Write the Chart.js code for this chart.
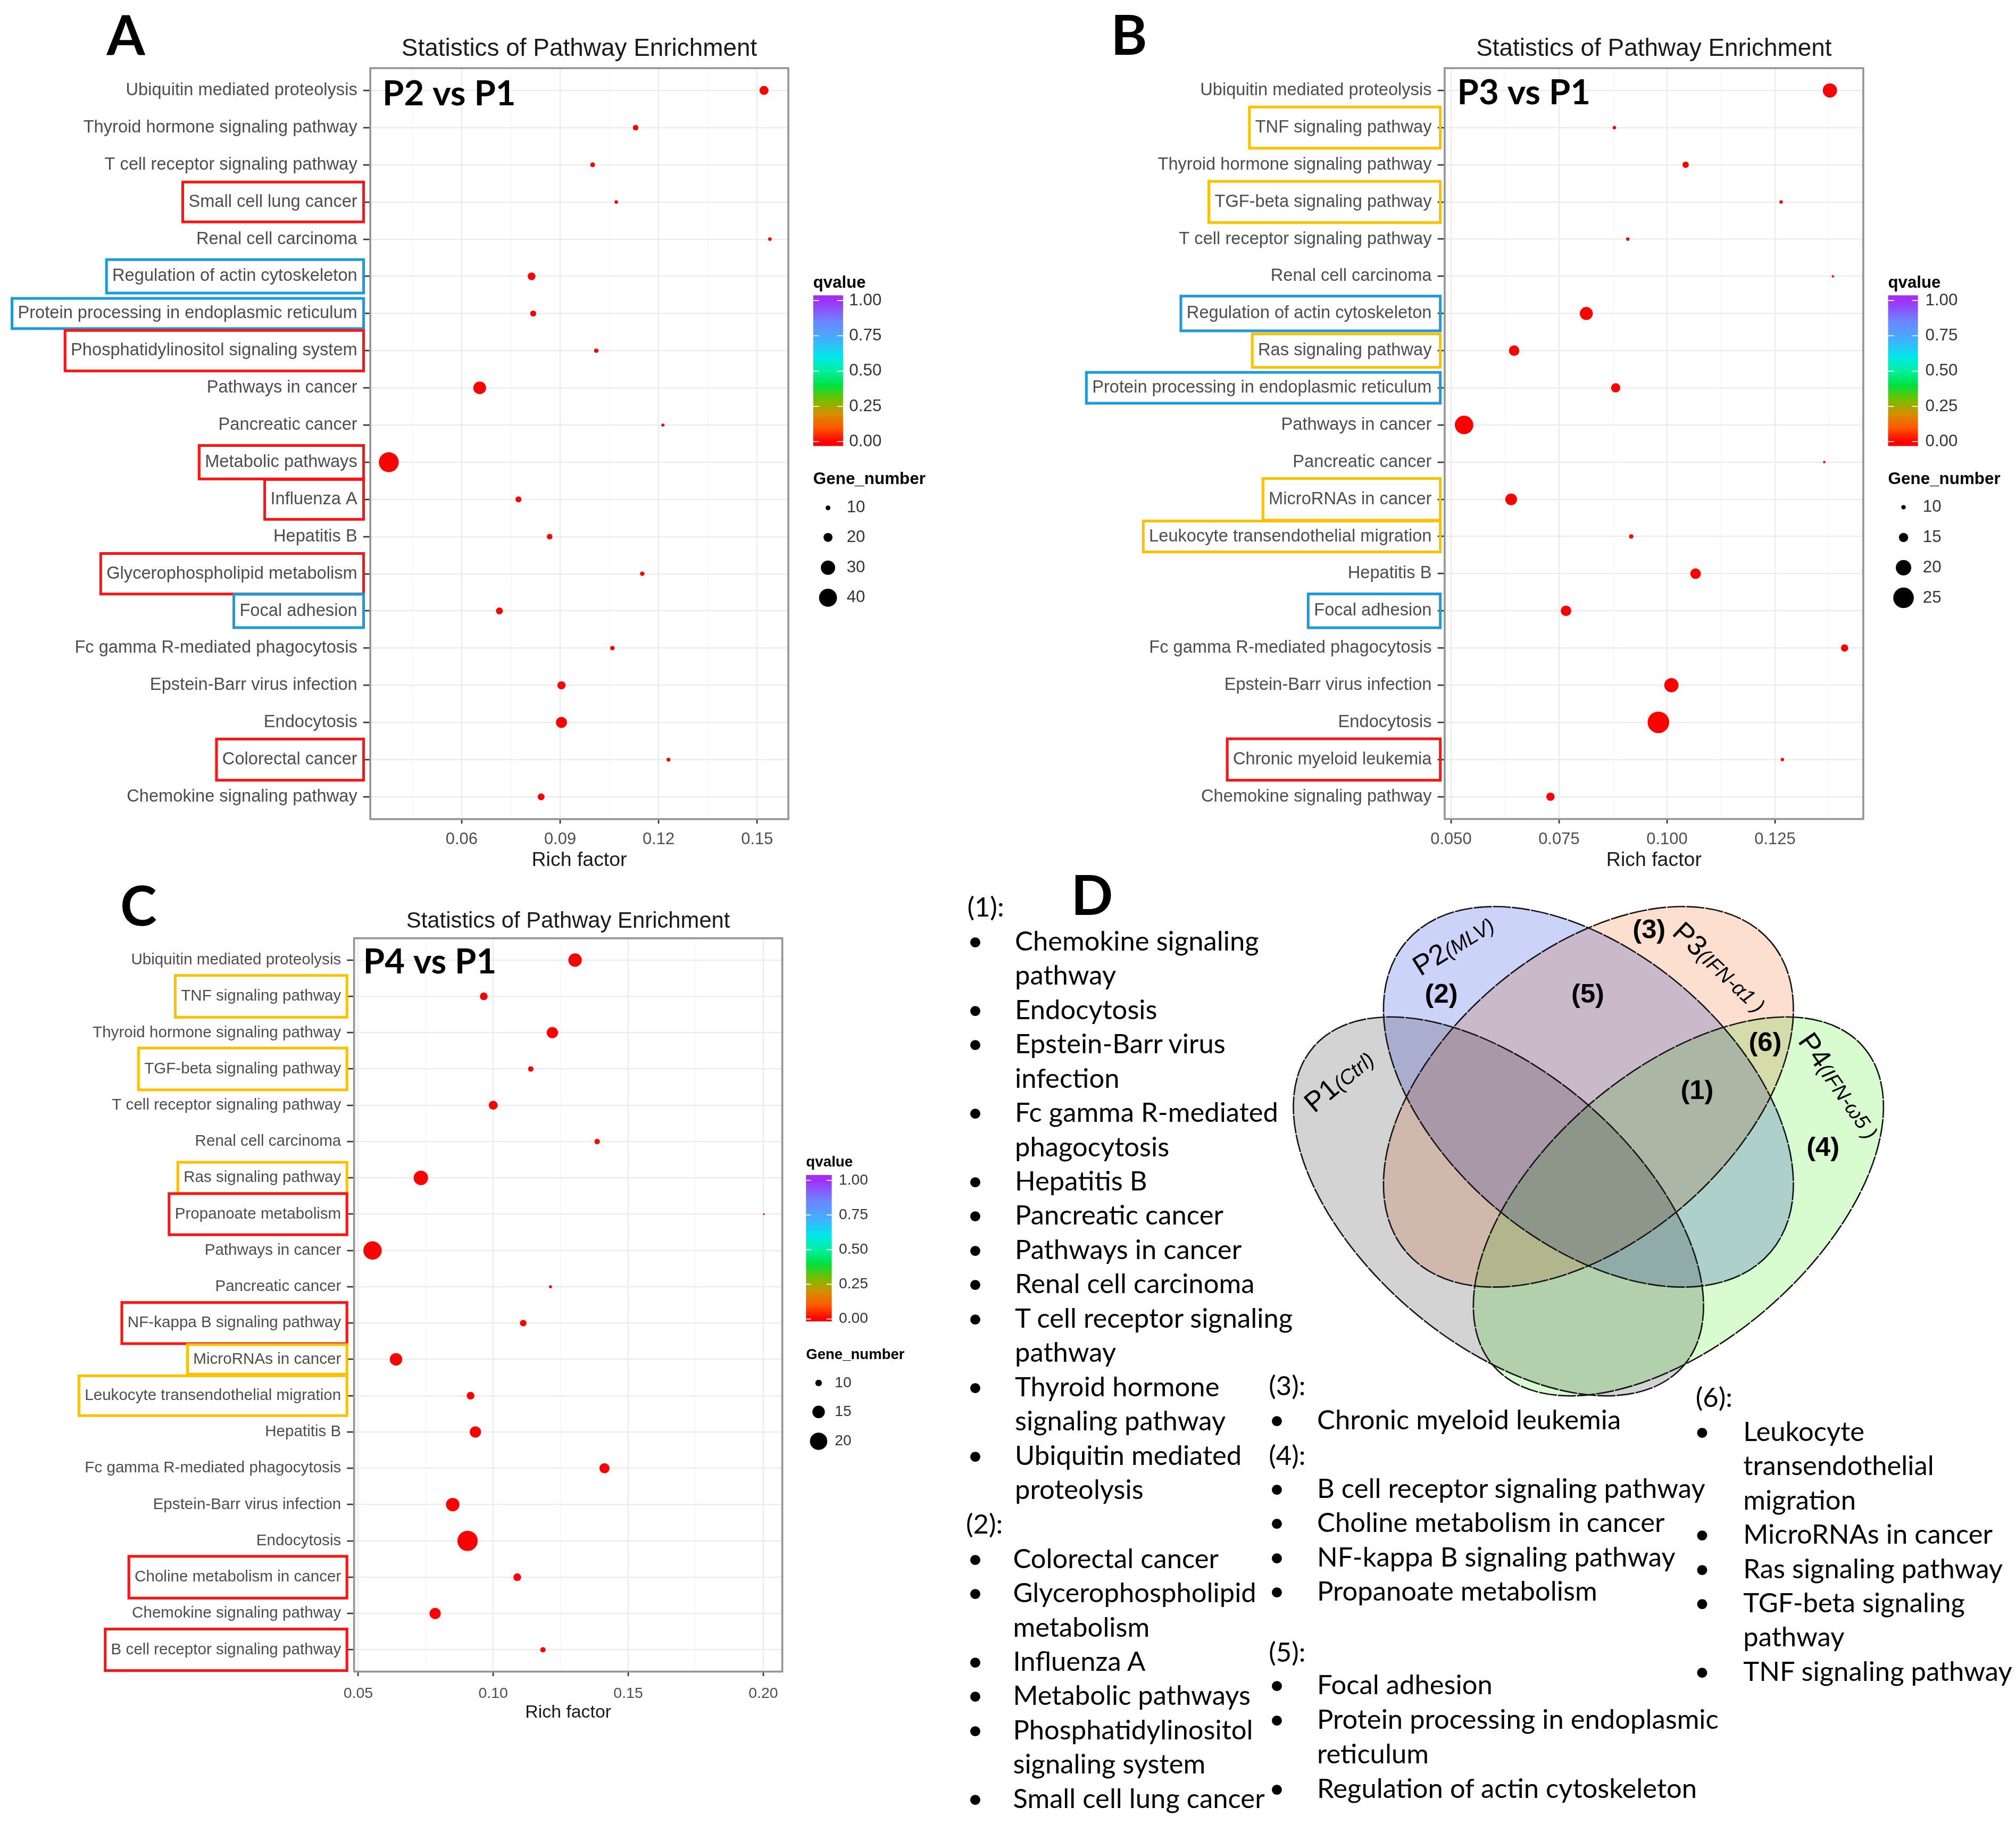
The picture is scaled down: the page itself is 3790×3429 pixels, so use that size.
<!DOCTYPE html>
<html><head><meta charset="utf-8"><title>Statistics of Pathway Enrichment</title>
<script src="https://cdn.jsdelivr.net/npm/chart.js@4.4.1/dist/chart.umd.min.js"></script>
<style>
html,body{margin:0;padding:0;background:#fff;}
body{width:3790px;height:3429px;position:relative;overflow:hidden;}
canvas{position:absolute;}
.t{position:absolute;white-space:pre;font-family:Lato,"Open Sans",sans-serif;color:#000;}
</style></head><body>
<script>
const S = 3790 / 1568;
const u = v => v * S;

// ================= DATA =================
const titleText = 'Statistics of Pathway Enrichment';
const xTitle = 'Rich factor';
const tags = ['P2 vs P1', 'P3 vs P1', 'P4 vs P1'];

const catsA = ['Ubiquitin mediated proteolysis','Thyroid hormone signaling pathway','T cell receptor signaling pathway','Small cell lung cancer','Renal cell carcinoma','Regulation of actin cytoskeleton','Protein processing in endoplasmic reticulum','Phosphatidylinositol signaling system','Pathways in cancer','Pancreatic cancer','Metabolic pathways','Influenza A','Hepatitis B','Glycerophospholipid metabolism','Focal adhesion','Fc gamma R-mediated phagocytosis','Epstein-Barr virus infection','Endocytosis','Colorectal cancer','Chemokine signaling pathway'];
const richA  = [0.1521,0.1130,0.0999,0.1071,0.1539,0.0813,0.0818,0.1010,0.0655,0.1213,0.0378,0.0773,0.0868,0.1150,0.0715,0.1059,0.0904,0.0904,0.1230,0.0842];
const genesA = [20,12,10,7,7,17,13,9,27,6,45,13,12,9,15,9,18,24,8,15];

const catsB = ['Ubiquitin mediated proteolysis','TNF signaling pathway','Thyroid hormone signaling pathway','TGF-beta signaling pathway','T cell receptor signaling pathway','Renal cell carcinoma','Regulation of actin cytoskeleton','Ras signaling pathway','Protein processing in endoplasmic reticulum','Pathways in cancer','Pancreatic cancer','MicroRNAs in cancer','Leukocyte transendothelial migration','Hepatitis B','Focal adhesion','Fc gamma R-mediated phagocytosis','Epstein-Barr virus infection','Endocytosis','Chronic myeloid leukemia','Chemokine signaling pathway'];
const richB  = [0.1377,0.0878,0.1043,0.1264,0.0909,0.1384,0.0813,0.0646,0.0881,0.0530,0.1364,0.0639,0.0917,0.1066,0.0766,0.1411,0.1010,0.0980,0.1267,0.0730];
const genesB = [19,9,12,9,9,8,18,16,15,23,8,17,10,16,16,13,19,26,9,14];

const catsC = ['Ubiquitin mediated proteolysis','TNF signaling pathway','Thyroid hormone signaling pathway','TGF-beta signaling pathway','T cell receptor signaling pathway','Renal cell carcinoma','Ras signaling pathway','Propanoate metabolism','Pathways in cancer','Pancreatic cancer','NF-kappa B signaling pathway','MicroRNAs in cancer','Leukocyte transendothelial migration','Hepatitis B','Fc gamma R-mediated phagocytosis','Epstein-Barr virus infection','Endocytosis','Choline metabolism in cancer','Chemokine signaling pathway','B cell receptor signaling pathway'];
const richC  = [0.1303,0.0965,0.1219,0.1139,0.1000,0.1385,0.0732,0.2002,0.0553,0.1212,0.1111,0.0640,0.0916,0.0934,0.1412,0.0850,0.0905,0.1089,0.0785,0.1184];
const genesC = [16,11,14,9,12,9,17,6,21,7,10,15,11,14,13,16,23,11,14,9];

const xTicksA = [0.06,0.09,0.12,0.15];     const xTickLabelsA = ['0.06','0.09','0.12','0.15'];     const xMinorA = [0.045,0.075,0.105,0.135];
const xTicksB = [0.050,0.075,0.100,0.125]; const xTickLabelsB = ['0.050','0.075','0.100','0.125']; const xMinorB = [0.0625,0.0875,0.1125,0.1375];
const xTicksC = [0.05,0.10,0.15,0.20];     const xTickLabelsC = ['0.05','0.10','0.15','0.20'];     const xMinorC = [0.075,0.125,0.175];

const qTicks = [1.00,0.75,0.50,0.25,0.00];
const qTickLabels = ['1.00','0.75','0.50','0.25','0.00'];
const sizeLegA = [10,20,30,40];
const sizeLegB = [10,15,20,25];
const sizeLegC = [10,15,20];

const boxesA = [['Small cell lung cancer','red'],['Regulation of actin cytoskeleton','blue'],['Protein processing in endoplasmic reticulum','blue'],['Phosphatidylinositol signaling system','red'],['Metabolic pathways','red'],['Influenza A','red'],['Glycerophospholipid metabolism','red'],['Focal adhesion','blue'],['Colorectal cancer','red']];
const boxesB = [['TNF signaling pathway','yellow'],['TGF-beta signaling pathway','yellow'],['Regulation of actin cytoskeleton','blue'],['Ras signaling pathway','yellow'],['Protein processing in endoplasmic reticulum','blue'],['MicroRNAs in cancer','yellow'],['Leukocyte transendothelial migration','yellow'],['Focal adhesion','blue'],['Chronic myeloid leukemia','red']];
const boxesC = [['TNF signaling pathway','yellow'],['TGF-beta signaling pathway','yellow'],['Ras signaling pathway','yellow'],['Propanoate metabolism','red'],['NF-kappa B signaling pathway','red'],['MicroRNAs in cancer','yellow'],['Leukocyte transendothelial migration','yellow'],['Choline metabolism in cancer','red'],['B cell receptor signaling pathway','red']];

const vennSets = ['P1','P2','P3','P4'];
const vennSubs = ['(Ctrl)','(MLV)','(IFN-\u03b11 )','(IFN-\u03c95 )'];
const vennRegions = ['(1)','(2)','(3)','(4)','(5)','(6)'];

const groups = [
  {label:'(1):', items:['Chemokine signaling\npathway','Endocytosis','Epstein-Barr virus\ninfection','Fc gamma R-mediated\nphagocytosis','Hepatitis B','Pancreatic cancer','Pathways in cancer','Renal cell carcinoma','T cell receptor signaling\npathway','Thyroid hormone\nsignaling pathway','Ubiquitin mediated\nproteolysis']},
  {label:'(2):', items:['Colorectal cancer','Glycerophospholipid\nmetabolism','Influenza A','Metabolic pathways','Phosphatidylinositol\nsignaling system','Small cell lung cancer']},
  {label:'(3):', items:['Chronic myeloid leukemia']},
  {label:'(4):', items:['B cell receptor signaling pathway','Choline metabolism in cancer','NF-kappa B signaling pathway','Propanoate metabolism']},
  {label:'(5):', items:['Focal adhesion','Protein processing in endoplasmic\nreticulum','Regulation of actin cytoskeleton']},
  {label:'(6):', items:['Leukocyte\ntransendothelial\nmigration','MicroRNAs in cancer','Ras signaling pathway','TGF-beta signaling\npathway','TNF signaling pathway']}
];

// ================= STYLE / LAYOUT (reference display units, 1568 wide) =================
const FONT = '"Liberation Sans", Arial, sans-serif';
const boxColors = {red:'#FF1414', blue:'#1C9BDA', yellow:'#FFC000'};
const qGrad = [[0,'#FF0000'],[0.1,'#FF5A00'],[0.2,'#D29000'],[0.3,'#70C000'],[0.4,'#00E040'],[0.5,'#00F0A0'],[0.6,'#00E8E8'],[0.72,'#40B0FF'],[0.85,'#6C86FF'],[1,'#A030F5']];

const LA = {canvas:{x:0,y:0,w:740,h:690}, plot:{l:288,r:613,t:53,b:637}, xmin:0.03217, xmax:0.15952,
  yFont:13.5, xFont:12.8, xLabBase:656.6, titleSize:19, titleBase:43.3, xTitleSize:15.5, xTitleBase:673.6,
  tagX:297.5, tagBase:82, tagSize:27, boxGap:5.2, boxH:[31,26,23.5,31.5,26,31,31.5,26,32],
  leg:{x:632.5, qTitleY:220.3, qTitleSize:12.9, barW:23.2, barTop:229.7, barBot:346.9, q1Y:233.7, q0Y:343.5, labX:660.4, labSize:13, gTitleY:373, gTitleSize:13, dotX:644, glabX:658.5, gY:[395,418,441.5,464.9]},
  diam:[3.7,7.0,11.1,14.0]};
const LB = {canvas:{x:830,y:0,w:738,h:690}, plot:{l:1123.7,r:1449.2,t:53,b:636.9}, xmin:0.04851, xmax:0.14543,
  yFont:13.5, xFont:12.8, xLabBase:656.6, titleSize:19, titleBase:43.3, xTitleSize:15.5, xTitleBase:673.6,
  tagX:1133.5, tagBase:81.1, tagSize:27, boxGap:3.4, boxH:[32,32,27,26,24,32.4,24,26.3,32.2],
  leg:{x:1468.6, qTitleY:220.3, qTitleSize:12.9, barW:23.2, barTop:229.7, barBot:346.9, q1Y:233.7, q0Y:343.5, labX:1497.5, labSize:13, gTitleY:373, gTitleSize:13, dotX:1480.6, glabX:1495.6, gY:[394.5,418,441.5,465]},
  diam:[3.4,7.2,12.0,16.0]};
const LC = {canvas:{x:0,y:680,w:740,h:680}, plot:{l:275.4,r:608.3,t:729.6,b:1299.8}, xmin:0.04848, xmax:0.20705,
  yFont:12.25, xFont:11.8, xLabBase:1320.4, titleSize:17.3, titleBase:721.3, xTitleSize:14, xTitleBase:1335.8,
  tagX:282.5, tagBase:756.9, tagSize:27, boxGap:5.6, boxH:[32.5,32.5,24.2,32,32,23,31,32.5,32.3],
  leg:{x:626.9, qTitleY:904.1, qTitleSize:11.5, barW:20, barTop:913.7, barBot:1027.6, q1Y:917.9, q0Y:1025.7, labX:652.4, labSize:11.7, gTitleY:1053.8, gTitleSize:11.4, dotX:636.7, glabX:649.2, gY:[1075.5,1098,1120.8]},
  diam:[5.1,9.7,13.5]};

function makeDiam(vals, ds) {
  return v => {
    const n = vals.length;
    if (v <= vals[0]) return Math.max(1.0, ds[0] + (v - vals[0]) * (ds[1] - ds[0]) / (vals[1] - vals[0]));
    for (let i = 1; i < n; i++) if (v <= vals[i]) return ds[i-1] + (v - vals[i-1]) * (ds[i] - ds[i-1]) / (vals[i] - vals[i-1]);
    return ds[n-1] + (v - vals[n-1]) * (ds[n-1] - ds[n-2]) / (vals[n-1] - vals[n-2]);
  };
}

function makeCanvas(box) {
  const cv = document.createElement('canvas');
  cv.width = Math.round(u(box.w)); cv.height = Math.round(u(box.h));
  cv.style.left = u(box.x) + 'px'; cv.style.top = u(box.y) + 'px';
  cv.style.width = cv.width + 'px'; cv.style.height = cv.height + 'px';
  document.body.appendChild(cv);
  return cv;
}

function makePanel(L, cats, rich, genes, xTicks, xTickLabels, xMinor, sizeLeg, boxes, tag) {
  const cv = makeCanvas(L.canvas);
  const diam = makeDiam(sizeLeg, L.diam);
  const isMaj = v => xTicks.some(t => Math.abs(t - v) < 1e-9);
  const X = v => u(v - L.canvas.x), Y = v => u(v - L.canvas.y);
  const yTick = 5.5, yPad = 4.6;
  const deco = {
    id: 'deco',
    afterDatasetsDraw(chart) {
      const c = chart.ctx, a = chart.chartArea;
      c.save();
      c.strokeStyle = '#959595'; c.lineWidth = u(1.5);
      c.strokeRect(a.left, a.top, a.right - a.left, a.bottom - a.top);
      c.restore();
    },
    afterDraw(chart) {
      const c = chart.ctx, a = chart.chartArea, xs = chart.scales.x, ys = chart.scales.y;
      c.save();
      // x tick labels
      c.fillStyle = '#4D4D4D'; c.textAlign = 'center'; c.textBaseline = 'alphabetic';
      c.font = `${u(L.xFont)}px ${FONT}`;
      xTicks.forEach((t, i) => c.fillText(xTickLabels[i], xs.getPixelForValue(t), Y(L.xLabBase)));
      // title + axis title
      c.fillStyle = '#1a1a1a';
      c.font = `${u(L.titleSize)}px ${FONT}`;
      c.fillText(titleText, (a.left + a.right) / 2, Y(L.titleBase));
      c.font = `${u(L.xTitleSize)}px ${FONT}`;
      c.fillText(xTitle, (a.left + a.right) / 2, Y(L.xTitleBase));
      // tag
      c.fillStyle = '#000'; c.textAlign = 'left';
      c.font = `bold ${u(L.tagSize)}px Lato, ${FONT}`;
      c.fillText(tag, X(L.tagX), Y(L.tagBase));
      // highlight boxes
      c.font = `${u(L.yFont)}px ${FONT}`;
      boxes.forEach((b, k) => {
        const i = cats.indexOf(b[0]);
        const w = c.measureText(b[0]).width;
        const right = a.left - u(L.boxGap);
        const left = a.left - u(yTick + yPad) - w - u(4.5);
        const yc = ys.getPixelForValue(i), h = u(L.boxH[k]);
        c.strokeStyle = boxColors[b[1]]; c.lineWidth = u(2.1);
        c.strokeRect(left, yc - h / 2, right - left, h);
      });
      // legend: qvalue colorbar
      const G = L.leg;
      c.textAlign = 'left'; c.textBaseline = 'middle'; c.fillStyle = '#000';
      c.font = `bold ${u(G.qTitleSize)}px ${FONT}`;
      c.fillText('qvalue', X(G.x), Y(G.qTitleY));
      const gr = c.createLinearGradient(0, Y(G.q0Y), 0, Y(G.q1Y));
      qGrad.forEach(s => gr.addColorStop(s[0], s[1]));
      c.fillStyle = gr;
      c.fillRect(X(G.x), Y(G.barTop), u(G.barW), Y(G.barBot) - Y(G.barTop));
      c.strokeStyle = '#fff'; c.lineWidth = u(0.7);
      c.font = `${u(G.labSize)}px ${FONT}`;
      qTicks.forEach((q, i) => {
        const yy = Y(G.q0Y + (G.q1Y - G.q0Y) * q);
        c.beginPath();
        c.moveTo(X(G.x), yy); c.lineTo(X(G.x + G.barW * 0.2), yy);
        c.moveTo(X(G.x + G.barW * 0.8), yy); c.lineTo(X(G.x + G.barW), yy);
        c.stroke();
        c.fillStyle = '#333';
        c.fillText(qTickLabels[i], X(G.labX), yy);
      });
      // legend: gene number
      c.fillStyle = '#000';
      c.font = `bold ${u(G.gTitleSize)}px ${FONT}`;
      c.fillText('Gene_number', X(G.x), Y(G.gTitleY));
      c.font = `${u(G.labSize)}px ${FONT}`;
      sizeLeg.forEach((v, i) => {
        c.fillStyle = '#000';
        c.beginPath(); c.arc(X(G.dotX), Y(G.gY[i]), u(diam(v) / 2), 0, Math.PI * 2); c.fill();
        c.fillStyle = '#333';
        c.fillText(String(v), X(G.glabX), Y(G.gY[i]));
      });
      c.restore();
    }
  };
  new Chart(cv, {
    type: 'bubble',
    data: {datasets: [{
      data: cats.map((cName, i) => ({x: rich[i], y: i, r: u(diam(genes[i]) / 2)})),
      backgroundColor: '#FF0000', borderWidth: 0, hoverBorderWidth: 0, hoverRadius: 0, clip: false
    }]},
    options: {
      responsive: false, animation: false, devicePixelRatio: 1, events: [],
      layout: {autoPadding: false, padding: {left: 0, top: u(L.plot.t - L.canvas.y), right: u(L.canvas.x + L.canvas.w - L.plot.r), bottom: 0}},
      plugins: {legend: {display: false}, tooltip: {enabled: false}},
      scales: {
        x: {
          type: 'linear', min: L.xmin, max: L.xmax,
          afterBuildTicks: s => { s.ticks = xTicks.concat(xMinor).sort((p, q) => p - q).map(v => ({value: v})); },
          afterFit: s => { s.height = u(L.canvas.y + L.canvas.h - L.plot.b); },
          ticks: {display: false, autoSkip: false},
          grid: {
            color: ctx => isMaj(ctx.tick.value) ? '#EBEBEB' : '#F5F5F5',
            lineWidth: ctx => isMaj(ctx.tick.value) ? u(0.9) : u(0.5),
            tickLength: u(3.5),
            tickColor: ctx => isMaj(ctx.tick.value) ? '#333333' : 'rgba(0,0,0,0)',
            tickWidth: u(1.1)
          },
          border: {display: false}
        },
        y: {
          type: 'linear', min: -0.6, max: cats.length - 1 + 0.6, reverse: true,
          afterBuildTicks: s => { s.ticks = cats.map((cName, i) => ({value: i})); },
          afterFit: s => { s.width = u(L.plot.l - L.canvas.x); },
          ticks: {autoSkip: false, padding: u(yPad), color: '#4D4D4D', font: {family: FONT, size: u(L.yFont)}, callback: v => cats[v]},
          grid: {color: '#EBEBEB', lineWidth: u(0.9), tickLength: u(yTick), tickColor: '#333333', tickWidth: u(1.1)},
          border: {display: false}
        }
      }
    },
    plugins: [deco]
  });
}

makePanel(LA, catsA, richA, genesA, xTicksA, xTickLabelsA, xMinorA, sizeLegA, boxesA, tags[0]);
makePanel(LB, catsB, richB, genesB, xTicksB, xTickLabelsB, xMinorB, sizeLegB, boxesB, tags[1]);
makePanel(LC, catsC, richC, genesC, xTicksC, xTickLabelsC, xMinorC, sizeLegC, boxesC, tags[2]);

// ================= VENN (panel D) =================
const VB = {x:990, y:690, w:490, h:410};
const vennGeom = [
  {cx:1165.5, cy:938.2, a:190.0, b:105.3, rot:40.7,  fill:'#D3D3D3'},
  {cx:1235.5, cy:853.0, a:186.2, b:112.6, rot:40.4,  fill:'#CCD3F9'},
  {cx:1235.5, cy:853.0, a:186.2, b:112.6, rot:-40.4, fill:'#FDDFD0'},
  {cx:1305.5, cy:938.2, a:190.0, b:105.3, rot:-40.7, fill:'#D8FCD0'}
];
const setLabelPos = [[1041,840,-40],[1130,734.4,-32],[1338.4,751.7,43],[1431.5,843.9,55]];
const regionPos = [[1320,849],[1121,774],[1282.7,724],[1418,893],[1235,774],[1373,811.5]];

(function makeVenn() {
  const cv = makeCanvas(VB);
  const vennPlugin = {
    id: 'venn',
    afterDraw(chart) {
      const c = chart.ctx, xs = chart.scales.x, ys = chart.scales.y;
      const px = v => xs.getPixelForValue(v), py = v => ys.getPixelForValue(v);
      const len = v => xs.getPixelForValue(VB.x + v) - xs.getPixelForValue(VB.x);
      c.save();
      c.globalCompositeOperation = 'multiply';
      vennGeom.forEach(e => {
        c.beginPath();
        c.ellipse(px(e.cx), py(e.cy), len(e.a), len(e.b), e.rot * Math.PI / 180, 0, Math.PI * 2);
        c.fillStyle = e.fill; c.fill();
      });
      c.globalCompositeOperation = 'source-over';
      c.strokeStyle = '#151515'; c.lineWidth = u(1.1); c.setLineDash([u(14), u(0.9)]);
      vennGeom.forEach(e => {
        c.beginPath();
        c.ellipse(px(e.cx), py(e.cy), len(e.a), len(e.b), e.rot * Math.PI / 180, 0, Math.PI * 2);
        c.stroke();
      });
      c.setLineDash([]);
      // set labels
      c.fillStyle = '#000'; c.textAlign = 'left'; c.textBaseline = 'alphabetic';
      vennSets.forEach((nm, i) => {
        const p = setLabelPos[i];
        c.save();
        c.translate(px(p[0]), py(p[1])); c.rotate(p[2] * Math.PI / 180);
        const f1 = `${u(22)}px ${FONT}`, f2 = `italic ${u(16)}px ${FONT}`;
        c.font = f1; const w1 = c.measureText(nm).width;
        c.font = f2; const w2 = c.measureText(vennSubs[i]).width;
        const x0 = -(w1 + w2) / 2, base = u(22) * 0.36;
        c.font = f1; c.fillText(nm, x0, base);
        c.font = f2; c.fillText(vennSubs[i], x0 + w1, base);
        c.restore();
      });
      // region labels (positions come from the dataset elements)
      const meta = chart.getDatasetMeta(0);
      c.textAlign = 'center'; c.textBaseline = 'middle';
      c.font = `bold ${u(21)}px ${FONT}`;
      meta.data.forEach((el, i) => c.fillText(vennRegions[i], el.x, el.y));
      c.restore();
    }
  };
  new Chart(cv, {
    type: 'scatter',
    data: {datasets: [{data: regionPos.map(p => ({x: p[0], y: p[1]})), pointRadius: 0, pointHoverRadius: 0}]},
    options: {
      responsive: false, animation: false, devicePixelRatio: 1, events: [],
      layout: {autoPadding: false, padding: 0},
      plugins: {legend: {display: false}, tooltip: {enabled: false}},
      scales: {
        x: {type: 'linear', display: false, min: VB.x, max: VB.x + VB.w},
        y: {type: 'linear', display: false, min: VB.y, max: VB.y + VB.h, reverse: true}
      }
    },
    plugins: [vennPlugin]
  });
})();

// ================= HTML TEXT =================
function addText(txt, x, y, size, weight, lh) {
  const d = document.createElement('div');
  d.className = 't';
  d.textContent = txt;
  d.style.left = u(x) + 'px'; d.style.top = u(y) + 'px';
  d.style.fontSize = u(size) + 'px';
  d.style.fontWeight = weight || 'normal';
  d.style.lineHeight = lh ? u(lh) + 'px' : '1';
  document.body.appendChild(d);
}
// panel letters
addText('A', 83, 4.7, 43, 'bold');
addText('B', 864, 4.6, 43, 'bold');
addText('C', 93.5, 681.9, 43, 'bold');
addText('D', 833, 673.7, 43, 'bold');

// lists: [headerX, headerY, bulletX, textX, firstItemY, step]
const listPos = [
  [752.3, 705.0, 752.5, 789.4, 731.5, 26.66],
  [751.3, 1185.0, 752.5, 787.9, 1211.7, 26.66],
  [986.8, 1077.4, 987.0, 1024.4, 1103.7, 26.66],
  [986.8, 1131.5, 987.0, 1024.4, 1157.1, 26.66],
  [986.8, 1284.6, 987.0, 1024.4, 1309.8, 26.9],
  [1318.8, 1086.6, 1317.8, 1355.9, 1112.9, 26.66]
];
const LH = 26.6, FS = 21;
groups.forEach((g, gi) => {
  const p = listPos[gi];
  addText(g.label, p[0], p[1] - LH / 2, FS, 'normal', LH);
  let k = 0;
  g.items.forEach(item => {
    const lines = item.split('\n');
    addText('\u2022', p[2], p[4] + k * p[5] - LH / 2, FS, 'normal', LH);
    lines.forEach(line => {
      addText(line, p[3], p[4] + k * p[5] - LH / 2, FS, 'normal', LH);
      k++;
    });
  });
});
</script>
</body></html>
